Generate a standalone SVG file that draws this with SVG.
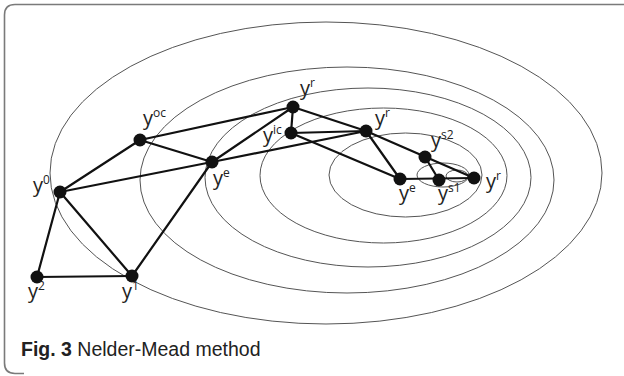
<svg xmlns="http://www.w3.org/2000/svg" width="624" height="376" viewBox="0 0 624 376">
<style>
.frame{fill:none;stroke:#7a7a7a;stroke-width:1.6}
.contour{fill:none;stroke:#555;stroke-width:1}
.edge{stroke:#111;stroke-width:2.2;stroke-linecap:round}
.pt{fill:#111}
.lbl{font-family:"Open Sans","Liberation Sans",sans-serif;font-size:20px;fill:#222}
.sup{font-size:12px}
.cap{font-family:"Liberation Sans",Arial,sans-serif;font-size:19.5px;fill:#222}
</style>
<rect width="624" height="376" fill="#fff"/>
<path class="frame" d="M624 4.5 H15 Q4.5 4.5 4.5 15 V363 Q4.5 373.5 15 373.5 H24"/>
<g id="contours">
<ellipse class="contour" cx="326" cy="173" rx="276" ry="151"/>
<ellipse class="contour" cx="347" cy="180" rx="207" ry="113"/>
<ellipse class="contour" cx="368" cy="177.5" rx="163" ry="89.5"/>
<ellipse class="contour" cx="383.5" cy="175.5" rx="123.5" ry="67.5"/>
<ellipse class="contour" cx="405.5" cy="175" rx="76.5" ry="42"/>
<ellipse class="contour" cx="443" cy="175" rx="26" ry="12"/>
<ellipse class="contour" cx="457" cy="176" rx="11" ry="6"/>
</g>
<g id="connectors">
<line class="edge" x1="60" y1="192" x2="37" y2="277"/>
<line class="edge" x1="37" y1="277" x2="132" y2="276"/>
<line class="edge" x1="60" y1="192" x2="132" y2="276"/>
<line class="edge" x1="60" y1="192" x2="140" y2="140"/>
<line class="edge" x1="60" y1="192" x2="212" y2="162"/>
<line class="edge" x1="212" y1="162" x2="366" y2="131"/>
<line class="edge" x1="140" y1="140" x2="212" y2="162"/>
<line class="edge" x1="140" y1="140" x2="293" y2="107"/>
<line class="edge" x1="212" y1="162" x2="293" y2="107"/>
<line class="edge" x1="132" y1="276" x2="212" y2="162"/>
<line class="edge" x1="293" y1="107" x2="291" y2="133"/>
<line class="edge" x1="293" y1="107" x2="366" y2="131"/>
<line class="edge" x1="291" y1="133" x2="366" y2="131"/>
<line class="edge" x1="291" y1="133" x2="400" y2="179"/>
<line class="edge" x1="366" y1="131" x2="400" y2="179"/>
<line class="edge" x1="366" y1="131" x2="474" y2="178"/>
<line class="edge" x1="425" y1="157" x2="439" y2="180"/>
<line class="edge" x1="400" y1="179" x2="474" y2="178"/>
</g>
<g id="y0"><circle class="pt" cx="60" cy="192" r="6.5"/><text class="lbl" x="33" y="192">y<tspan class="sup" dy="-8">0</tspan></text></g>
<g id="y2"><circle class="pt" cx="37" cy="277" r="6.5"/><text class="lbl" x="28" y="298">y<tspan class="sup" dy="-8">2</tspan></text></g>
<g id="y1"><circle class="pt" cx="132" cy="276" r="6.5"/><text class="lbl" x="122" y="298">y<tspan class="sup" dy="-8">1</tspan></text></g>
<g id="yoc"><circle class="pt" cx="140" cy="140" r="6.5"/><text class="lbl" x="143" y="125">y<tspan class="sup" dy="-8">oc</tspan></text></g>
<g id="ye1"><circle class="pt" cx="212" cy="162" r="6.5"/><text class="lbl" x="213" y="185">y<tspan class="sup" dy="-8">e</tspan></text></g>
<g id="yr1"><circle class="pt" cx="293" cy="107" r="6.5"/><text class="lbl" x="300" y="95">y<tspan class="sup" dy="-8">r</tspan></text></g>
<g id="yic"><circle class="pt" cx="291" cy="133" r="6.5"/><text class="lbl" x="263" y="142">y<tspan class="sup" dy="-8">ic</tspan></text></g>
<g id="yr2"><circle class="pt" cx="366" cy="131" r="6.5"/><text class="lbl" x="375" y="125">y<tspan class="sup" dy="-8">r</tspan></text></g>
<g id="ys2"><circle class="pt" cx="425" cy="157" r="6.5"/><text class="lbl" x="431" y="147">y<tspan class="sup" dy="-8">s2</tspan></text></g>
<g id="ye2"><circle class="pt" cx="400" cy="179" r="6.5"/><text class="lbl" x="399" y="200">y<tspan class="sup" dy="-8">e</tspan></text></g>
<g id="ys1"><circle class="pt" cx="439" cy="180" r="6.5"/><text class="lbl" x="438" y="200">y<tspan class="sup" dy="-8">s1</tspan></text></g>
<g id="yr3"><circle class="pt" cx="474" cy="178" r="6.5"/><text class="lbl" x="486" y="188">y<tspan class="sup" dy="-8">r</tspan></text></g>
<text class="cap" x="21" y="356"><tspan font-weight="bold">Fig. 3</tspan> Nelder-Mead method</text>
</svg>
